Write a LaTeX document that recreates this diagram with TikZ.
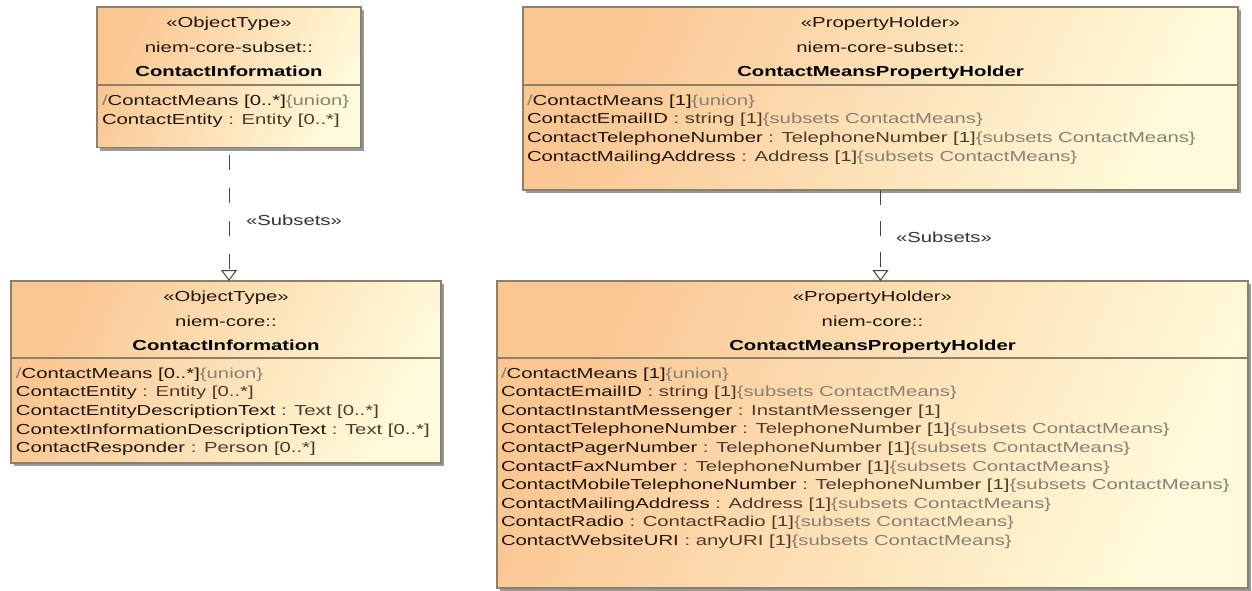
\documentclass[tikz,border=0pt]{standalone}
\usepackage{fontspec}
\setmainfont{Liberation Sans}[FakeStretch=1.4]
\usetikzlibrary{arrows.meta,shadows,calc}
\definecolor{peach}{RGB}{250,198,146}
\definecolor{cream}{RGB}{255,251,218}
\definecolor{bordc}{RGB}{140,128,105}
\definecolor{txtc}{RGB}{36,22,12}
\definecolor{typec}{RGB}{78,60,42}
\definecolor{grayc}{RGB}{138,128,116}
\definecolor{linec}{RGB}{70,70,70}
\newcommand\cg[1]{\textcolor{grayc}{#1}}
\newcommand\ct[1]{\textcolor{typec}{#1}}
\newcommand\subcm{\cg{\{subsets ContactMeans\}}}
\begin{document}
\begin{tikzpicture}[x=1pt,y=-1pt,
  umlbox/.style={draw=bordc, line width=1.1pt, left color=peach, right color=cream,
    shading angle=65, inner sep=0pt, outer sep=0pt, anchor=north west,
    drop shadow={shadow xshift=3pt,shadow yshift=-3pt,fill=black!40,opacity=1}},
  divl/.style={draw=bordc, line width=1.1pt},
  txt/.style={font=\fontsize{14.5}{18.6}\selectfont, text=txtc, inner sep=0pt, outer sep=0pt},
  hdr/.style={txt, anchor=base},
  attr/.style={txt, anchor=base west},
  dep/.style={draw=linec, line width=1pt, -{Triangle[open, length=11pt, width=16pt, fill=white]}},
  lbl/.style={txt, text=black!80, anchor=base west}]
\useasboundingbox (0,0) rectangle (1252,591);
% boxes
\node[umlbox, minimum width=264pt, minimum height=140.5pt] (b1) at (97,7) {};
\node[umlbox, minimum width=430pt, minimum height=182pt] (b2) at (11,281) {};
\node[umlbox, minimum width=715pt, minimum height=183pt] (b3) at (523,7) {};
\node[umlbox, minimum width=751pt, minimum height=307pt] (b4) at (497,281) {};
% dividers
\draw[divl] ($(b1.north west)+(0,78)$) -- ($(b1.north east)+(0,78)$);
\draw[divl] ($(b2.north west)+(0,77)$) -- ($(b2.north east)+(0,77)$);
\draw[divl] ($(b3.north west)+(0,78)$) -- ($(b3.north east)+(0,78)$);
\draw[divl] ($(b4.north west)+(0,77)$) -- ($(b4.north east)+(0,77)$);
% headers
\node[hdr] (b1h1) at ($(b1.north)+(0,21)$) {«ObjectType»};
\node[hdr] (b1h2) at ($(b1.north)+(0,46)$) {niem-core-subset::};
\node[hdr] (b1h3) at ($(b1.north)+(0,70)$) {\bfseries\color{black}ContactInformation};
\node[hdr] (b2h1) at ($(b2.north)+(0,20)$) {«ObjectType»};
\node[hdr] (b2h2) at ($(b2.north)+(0,45)$) {niem-core::};
\node[hdr] (b2h3) at ($(b2.north)+(0,69)$) {\bfseries\color{black}ContactInformation};
\node[hdr] (b3h1) at ($(b3.north)+(0,21)$) {«PropertyHolder»};
\node[hdr] (b3h2) at ($(b3.north)+(0,46)$) {niem-core-subset::};
\node[hdr] (b3h3) at ($(b3.north)+(0,70)$) {\bfseries\color{black}ContactMeansPropertyHolder};
\node[hdr] (b4h1) at ($(b4.north)+(0,20)$) {«PropertyHolder»};
\node[hdr] (b4h2) at ($(b4.north)+(0,45)$) {niem-core::};
\node[hdr] (b4h3) at ($(b4.north)+(0,69)$) {\bfseries\color{black}ContactMeansPropertyHolder};
% attributes
\foreach [count=\i] \t in {
  {\cg{/}ContactMeans [0..*]\cg{\{union\}}},
  {ContactEntity \ct{: Entity [0..*]}}}
  \node[attr] (b1a\i) at ($(b1.north west)+(5,{98.5+18.7*(\i-1)})$) {\t};
\foreach [count=\i] \t in {
  {\cg{/}ContactMeans [0..*]\cg{\{union\}}},
  {ContactEntity \ct{: Entity [0..*]}},
  {ContactEntityDescriptionText \ct{: Text [0..*]}},
  {ContextInformationDescriptionText \ct{: Text [0..*]}},
  {ContactResponder \ct{: Person [0..*]}}}
  \node[attr] (b2a\i) at ($(b2.north west)+(5,{97+18.7*(\i-1)})$) {\t};
\foreach [count=\i] \t in {
  {\cg{/}ContactMeans [1]\cg{\{union\}}},
  {ContactEmailID \ct{: string [1]}\subcm},
  {ContactTelephoneNumber \ct{: TelephoneNumber [1]}\subcm},
  {ContactMailingAddress \ct{: Address [1]}\subcm}}
  \node[attr] (b3a\i) at ($(b3.north west)+(4,{98.5+18.5*(\i-1)})$) {\t};
\foreach [count=\i] \t in {
  {\cg{/}ContactMeans [1]\cg{\{union\}}},
  {ContactEmailID \ct{: string [1]}\subcm},
  {ContactInstantMessenger \ct{: InstantMessenger [1]}},
  {ContactTelephoneNumber \ct{: TelephoneNumber [1]}\subcm},
  {ContactPagerNumber \ct{: TelephoneNumber [1]}\subcm},
  {ContactFaxNumber \ct{: TelephoneNumber [1]}\subcm},
  {ContactMobileTelephoneNumber \ct{: TelephoneNumber [1]}\subcm},
  {ContactMailingAddress \ct{: Address [1]}\subcm},
  {ContactRadio \ct{: ContactRadio [1]}\subcm},
  {ContactWebsiteURI \ct{: anyURI [1]}\subcm}}
  \node[attr] (b4a\i) at ($(b4.north west)+(4,{97+18.6*(\i-1)})$) {\t};
% connectors
\draw[dep, dash pattern=on 15pt off 18pt, dash phase=26pt] (b1.south) -- (b1.south |- b2.north);
\draw[dep, dash pattern=on 15pt off 16pt] (b3.south) -- (b3.south |- b4.north);
\node[lbl] (l1) at (246,225) {«Subsets»};
\node[lbl] (l2) at (896,242) {«Subsets»};
\end{tikzpicture}
\end{document}
